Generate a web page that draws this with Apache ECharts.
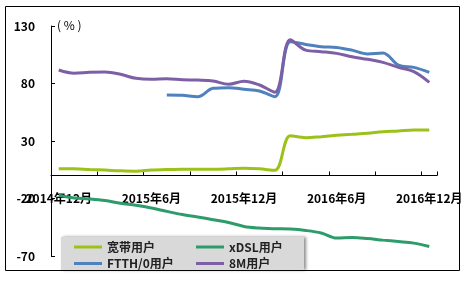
<!DOCTYPE html>
<html><head><meta charset="utf-8">
<script src="https://cdn.jsdelivr.net/npm/echarts@6/dist/echarts.min.js"></script>
<style>html,body{margin:0;padding:0;background:#fff}#c{width:466px;height:281px}</style>
</head><body><div id="c"></div>
<script>
const categories = ['2014年12月','2015年1月','2015年2月','2015年3月','2015年4月','2015年5月','2015年6月','2015年7月','2015年8月','2015年9月','2015年10月','2015年11月','2015年12月','2016年1月','2016年2月','2016年3月','2016年4月','2016年5月','2016年6月','2016年7月','2016年8月','2016年9月','2016年10月','2016年11月','2016年12月'];
const broadband = [5.8, 5.8, 5.2, 4.7, 4.1, 3.8, 4.7, 5.2, 5.5, 5.5, 5.5, 5.8, 6.3, 5.8, 4.5, 34.5, 32.9, 33.8, 34.9, 35.8, 36.7, 38.0, 38.7, 39.6, 39.6];
const xdsl = [-17.2, -19.5, -20.4, -21.8, -24.2, -25.9, -28.2, -31.2, -34.0, -36.1, -38.4, -40.8, -44.3, -45.7, -46.3, -46.6, -47.8, -50.0, -54.4, -53.9, -54.8, -56.2, -57.4, -58.8, -61.7];
const ftth = ['-', '-', '-', '-', '-', '-', '-', 70.0, 69.7, 68.5, 75.8, 76.4, 75.0, 73.5, 68.5, 116.4, 114.0, 112.0, 111.4, 109.0, 105.7, 106.5, 96.0, 94.0, 89.7];
const m8 = [91.7, 88.9, 89.7, 90.0, 88.0, 84.5, 83.6, 84.2, 83.3, 83.0, 82.2, 79.3, 82.0, 78.7, 72.5, 118.0, 109.0, 107.7, 106.2, 103.3, 101.0, 98.4, 94.0, 90.3, 81.0];
const seriesNames = ['宽带用户', 'xDSL用户', 'FTTH/0用户', '8M用户'];
const yMin = -70, yMax = 130, yStep = 50;
const unitLabel = '( % )';

const FONT = '"Noto Sans CJK SC", "DejaVu Sans", sans-serif';
const colors = ['#9cc21a', '#2e9b6b', '#4f81bd', '#7d5fa5'];
const chart = echarts.init(document.getElementById('c'), null, {renderer: 'canvas'});
const lbl = {fontFamily: FONT, fontSize: 12, fontWeight: 'bold', color: '#000'};
const gridTop = 26, gridH = 230;
const zeroOffset = gridH * (0 - yMin) / (yMax - yMin);
const legendCommon = {
  orient: 'vertical', top: 241, padding: 0, icon: 'rect', itemWidth: 28, itemHeight: 3, itemGap: 4.5,
  textStyle: {fontFamily: FONT, fontSize: 12, fontWeight: 'bold', color: '#222'},
  z: 10
};
const datasets = [broadband, xdsl, ftth, m8];
const option = {
  animation: false,
  textStyle: {fontFamily: FONT},
  title: {text: unitLabel, left: 57, top: 19, padding: 0, textStyle: {fontFamily: FONT, fontSize: 12, fontWeight: 'normal', color: '#000'}},
  graphic: [
    {type: 'rect', z: 0, shape: {x: 5.5, y: 6.5, width: 454, height: 264}, style: {fill: 'none', stroke: '#000', lineWidth: 1}},
    {type: 'rect', z: 8, shape: {x: 61, y: 237, width: 243, height: 33}, style: {fill: '#d9d9d9', shadowBlur: 3, shadowOffsetX: 2, shadowOffsetY: 0, shadowColor: 'rgba(0,0,0,0.45)'}}
  ],
  legend: [
    Object.assign({}, legendCommon, {data: [seriesNames[0], seriesNames[2]], left: 74}),
    Object.assign({}, legendCommon, {data: [seriesNames[1], seriesNames[3]], left: 196})
  ],
  grid: {left: 51, top: gridTop, width: 386, height: gridH, containLabel: false},
  xAxis: {
    type: 'category', data: categories, boundaryGap: true,
    offset: -zeroOffset,
    axisLine: {onZero: false, lineStyle: {color: '#000', width: 1}},
    axisTick: {show: true, inside: true, length: 4, interval: 2, alignWithLabel: false, lineStyle: {color: '#000'}},
    axisLabel: Object.assign({interval: 5, margin: 17}, lbl),
    splitLine: {show: false}
  },
  yAxis: {
    type: 'value', min: yMin, max: yMax, interval: yStep,
    axisLine: {show: true, onZero: false, lineStyle: {color: '#000', width: 1}},
    axisTick: {show: true, inside: true, length: 4, lineStyle: {color: '#000'}},
    axisLabel: Object.assign({margin: 16}, lbl),
    splitLine: {show: false}
  },
  series: seriesNames.map((n, i) => ({
    name: n, type: 'line', data: datasets[i], smooth: 0.35, symbol: 'none',
    connectNulls: false,
    itemStyle: {color: colors[i]},
    lineStyle: {color: colors[i], width: 3}
  }))
};
chart.setOption(option);
</script></body></html>
